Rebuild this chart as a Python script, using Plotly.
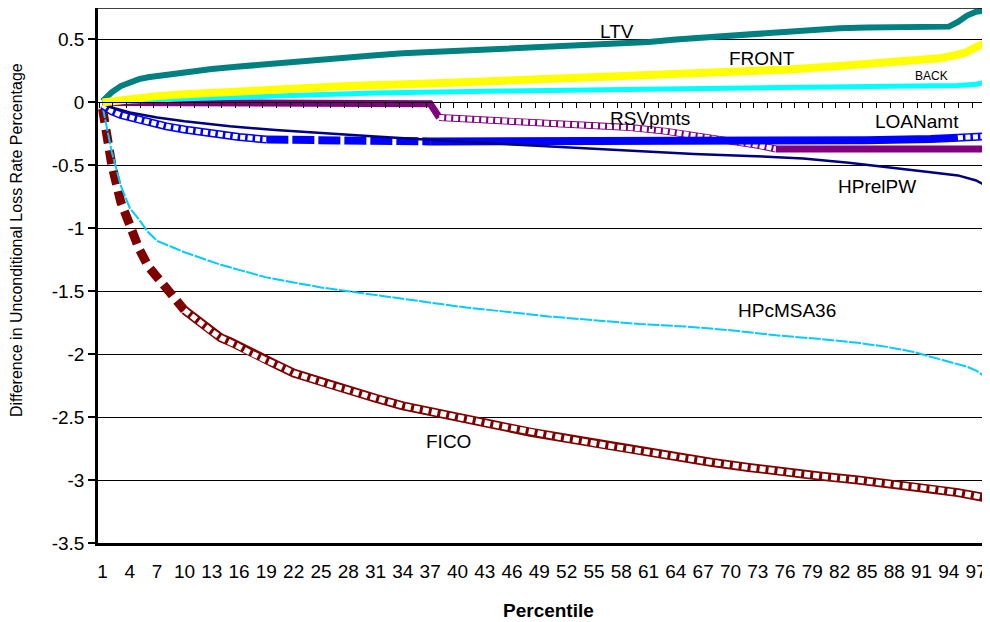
import plotly.graph_objects as go

# ---------------- data ----------------
tick_labels = [str(v) for v in range(1, 98, 3)]

ltv_x = [1, 2, 3, 4, 5, 6, 7, 8, 10, 13, 16, 19, 22, 25, 28, 31, 34, 37, 41, 46, 50, 55, 58, 61, 64, 67, 70, 73, 76, 79, 82, 85, 88, 91, 94, 95, 96, 97, 98]
ltv_y = [0.01, 0.08, 0.13, 0.16, 0.185, 0.20, 0.21, 0.22, 0.24, 0.265, 0.285, 0.305, 0.325, 0.345, 0.36, 0.375, 0.39, 0.40, 0.41, 0.42, 0.435, 0.45, 0.465, 0.48, 0.50, 0.515, 0.53, 0.55, 0.565, 0.58, 0.59, 0.595, 0.60, 0.60, 0.602, 0.64, 0.69, 0.72, 0.73]

front_x = [1, 4, 7, 10, 16, 22, 28, 37, 46, 55, 64, 70, 76, 82, 86, 90, 93, 95, 96, 97, 98]
front_y = [0.0, 0.03, 0.05, 0.065, 0.09, 0.11, 0.13, 0.15, 0.175, 0.20, 0.22, 0.24, 0.26, 0.29, 0.31, 0.33, 0.35, 0.38, 0.40, 0.44, 0.47]

back_x = [1, 5, 10, 20, 31, 45, 59, 70, 80, 86, 92, 95, 97, 98]
back_y = [0.0, 0.015, 0.03, 0.05, 0.075, 0.09, 0.10, 0.11, 0.115, 0.12, 0.125, 0.135, 0.145, 0.16]

rsv_x = [1, 10, 20, 30, 37, 38, 45, 52, 59, 63, 67, 70, 73, 75, 80, 90, 98]
rsv_y = [0.0, -0.005, -0.01, -0.01, -0.01, -0.12, -0.145, -0.17, -0.20, -0.23, -0.27, -0.31, -0.34, -0.37, -0.37, -0.37, -0.37]

loan_x = [1, 2, 3, 4, 6, 8, 10, 13, 16, 19, 25, 37, 59, 70, 85, 92, 95, 98]
loan_y = [-0.02, -0.07, -0.10, -0.12, -0.16, -0.19, -0.215, -0.25, -0.275, -0.295, -0.305, -0.31, -0.31, -0.307, -0.30, -0.29, -0.28, -0.27]

hprel_x = [1, 2, 4, 7, 10, 15, 20, 26, 31, 40, 50, 59, 66, 72, 78, 83, 88, 92, 95, 97, 98]
hprel_y = [-0.01, -0.04, -0.08, -0.12, -0.15, -0.19, -0.22, -0.25, -0.27, -0.31, -0.35, -0.385, -0.41, -0.425, -0.445, -0.48, -0.525, -0.555, -0.58, -0.62, -0.66]

hpc_x = [1, 2, 3, 4, 5, 6, 7, 8, 9, 10, 12, 14, 16, 19, 22, 25, 28, 31, 34, 37, 41, 45, 50, 55, 60, 65, 70, 75, 80, 84, 87, 90, 92, 94, 96, 97, 98]
hpc_y = [-0.03, -0.39, -0.66, -0.84, -0.93, -1.03, -1.10, -1.13, -1.16, -1.19, -1.24, -1.29, -1.33, -1.39, -1.43, -1.47, -1.50, -1.53, -1.56, -1.59, -1.63, -1.66, -1.70, -1.73, -1.76, -1.78, -1.81, -1.85, -1.88, -1.91, -1.94, -1.98, -2.02, -2.06, -2.10, -2.13, -2.18]

fico_x = [1, 2, 3, 4, 5, 6, 7, 8, 9, 10, 11, 12, 13, 14, 15, 16, 17, 18, 19, 20, 22, 25, 28, 31, 34, 37, 40, 44, 48, 52, 56, 60, 64, 68, 72, 76, 80, 84, 88, 92, 95, 98]
fico_y = [-0.05, -0.49, -0.79, -0.99, -1.16, -1.30, -1.39, -1.47, -1.56, -1.65, -1.71, -1.77, -1.82, -1.87, -1.90, -1.94, -1.98, -2.02, -2.05, -2.08, -2.15, -2.22, -2.29, -2.35, -2.41, -2.46, -2.50, -2.56, -2.62, -2.67, -2.72, -2.77, -2.82, -2.86, -2.90, -2.94, -2.97, -3.00, -3.03, -3.07, -3.10, -3.14]

FONT = "Liberation Sans, Arial, sans-serif"
fig = go.Figure()


def seg(xs, ys, lo, hi):
    sx, sy = [], []
    for a, b in zip(xs, ys):
        if lo <= a <= hi:
            sx.append(a)
            sy.append(b)
    return sx, sy


def line(xs, ys, color, width, dash="solid"):
    fig.add_trace(go.Scatter(x=xs, y=ys, mode="lines", showlegend=False, hoverinfo="skip",
                             line=dict(color=color, width=width, dash=dash)))


def hollow(xs, ys, color, width, inner, dash):
    line(xs, ys, color, width)
    line(xs, ys, "white", inner, dash)


# FICO
sx, sy = seg(fico_x, fico_y, 1, 10)
line(sx, sy, "#800000", 9, "14px,7px")
sx, sy = seg(fico_x, fico_y, 10, 98)
hollow(sx, sy, "#800000", 9, 5.5, "6px,3px")

# HPcMSA36
line(hpc_x, hpc_y, "#00CCFF", 2, "12px,1.5px")

# RSVpmts
sx, sy = seg(rsv_x, rsv_y, 1, 38)
line(sx, sy, "#800080", 7)
sx, sy = seg(rsv_x, rsv_y, 38, 75)
hollow(sx, sy, "#800080", 7, 5.2, "5px,2px")
sx, sy = seg(rsv_x, rsv_y, 75, 98)
line(sx, sy, "#800080", 7)

# LOANamt
sx, sy = seg(loan_x, loan_y, 1, 19)
hollow(sx, sy, "#0000FF", 8, 5, "5px,2.5px")
sx, sy = seg(loan_x, loan_y, 19, 37)
line(sx, sy, "#0000FF", 8, "22px,4px")
sx, sy = seg(loan_x, loan_y, 37, 95)
line(sx, sy, "#0000FF", 8)
sx, sy = seg(loan_x, loan_y, 95, 98)
hollow(sx, sy, "#0000FF", 8, 5, "5px,2.5px")

# HPrelPW
line(hprel_x, hprel_y, "#000080", 2.5)

# BACK, LTV, FRONT
line(back_x, back_y, "#00FFFF", 5)
line(ltv_x, ltv_y, "#008080", 6)
line(front_x, front_y, "#FFFF00", 8)

# helper for the zero-axis tick marks
fig.add_trace(go.Scatter(x=[], y=[], xaxis="x2", yaxis="y", showlegend=False, hoverinfo="skip"))

labels = [
    ("LTV", 57.5, 0.563, 19),
    ("FRONT", 73.5, 0.349, 19),
    ("BACK", 92.1, 0.206, 12),
    ("RSVpmts", 61.2, -0.127, 19),
    ("LOANamt", 90.5, -0.151, 19),
    ("HPrelPW", 86.1, -0.667, 19),
    ("HPcMSA36", 76.2, -1.651, 19),
    ("FICO", 39.0, -2.69, 19),
]
for txt, lx, ly, fs in labels:
    fig.add_annotation(x=lx, y=ly, text=txt, showarrow=False, xref="x", yref="y",
                       xanchor="center", yanchor="middle",
                       font=dict(family=FONT, size=fs, color="black"))

# page has an 8px body margin; figure coordinates are screen - 8
ML, MT, PW, PH = 90, 0, 900, 535
fig.add_annotation(x=(540 - ML) / PW, y=(PH - 602) / PH, xref="paper", yref="paper",
                   xanchor="center", yanchor="middle",
                   text="<b>Percentile</b>", showarrow=False,
                   font=dict(family=FONT, size=19, color="black"))
fig.add_annotation(x=(8 - ML) / PW, y=(PH - 232) / PH, xref="paper", yref="paper",
                   xanchor="center", yanchor="middle",
                   text="Difference in Unconditional Loss Rate Percentage",
                   textangle=-90, showarrow=False, font=dict(family=FONT, size=16, color="black"))

yvals = [0.5, 0, -0.5, -1, -1.5, -2, -2.5, -3, -3.5]
ytext = ["0.5", "0", "-0.5", "-1", "-1.5", "-2", "-2.5", "-3", "-3.5"]

CAT = 9.1  # px per category
fig.update_layout(
    width=990, height=622,
    margin=dict(l=ML, r=990 - ML - PW, t=MT, b=622 - MT - PH, autoexpand=False),
    paper_bgcolor="white", plot_bgcolor="white",
    font=dict(family=FONT, color="black"),
    xaxis=dict(range=[0.5, 0.5 + PW / CAT], tickmode="array", tickvals=list(range(1, 98, 3)), ticktext=tick_labels,
               showline=True, linecolor="black", linewidth=2.5, ticks="outside", ticklen=9,
               tickcolor="rgba(0,0,0,0)", showgrid=False, zeroline=False,
               tickfont=dict(family=FONT, size=19, color="black")),
    xaxis2=dict(overlaying="x", anchor="free", position=3.5 / 4.25, side="bottom",
                range=[-0.08, -0.08 + PW / 13.64], tick0=0, dtick=1, ticks="outside", ticklen=5, tickcolor="black",
                tickwidth=1, showline=True, linecolor="black", linewidth=1, showticklabels=False,
                showgrid=False, zeroline=False),
    yaxis=dict(range=[-3.5, 0.75], tickmode="array", tickvals=yvals, ticktext=ytext,
               showline=True, linecolor="black", linewidth=2.5, ticks="outside", ticklen=7, tickwidth=1.5,
               tickcolor="black", showgrid=True, gridcolor="black", gridwidth=1, zeroline=False,
               tickfont=dict(family=FONT, size=19, color="black")),
    shapes=[dict(type="line", xref="paper", yref="paper", x0=0, x1=1, y0=1, y1=1,
                 line=dict(color="black", width=1.5))],
)

fig.write_html("out.html")
